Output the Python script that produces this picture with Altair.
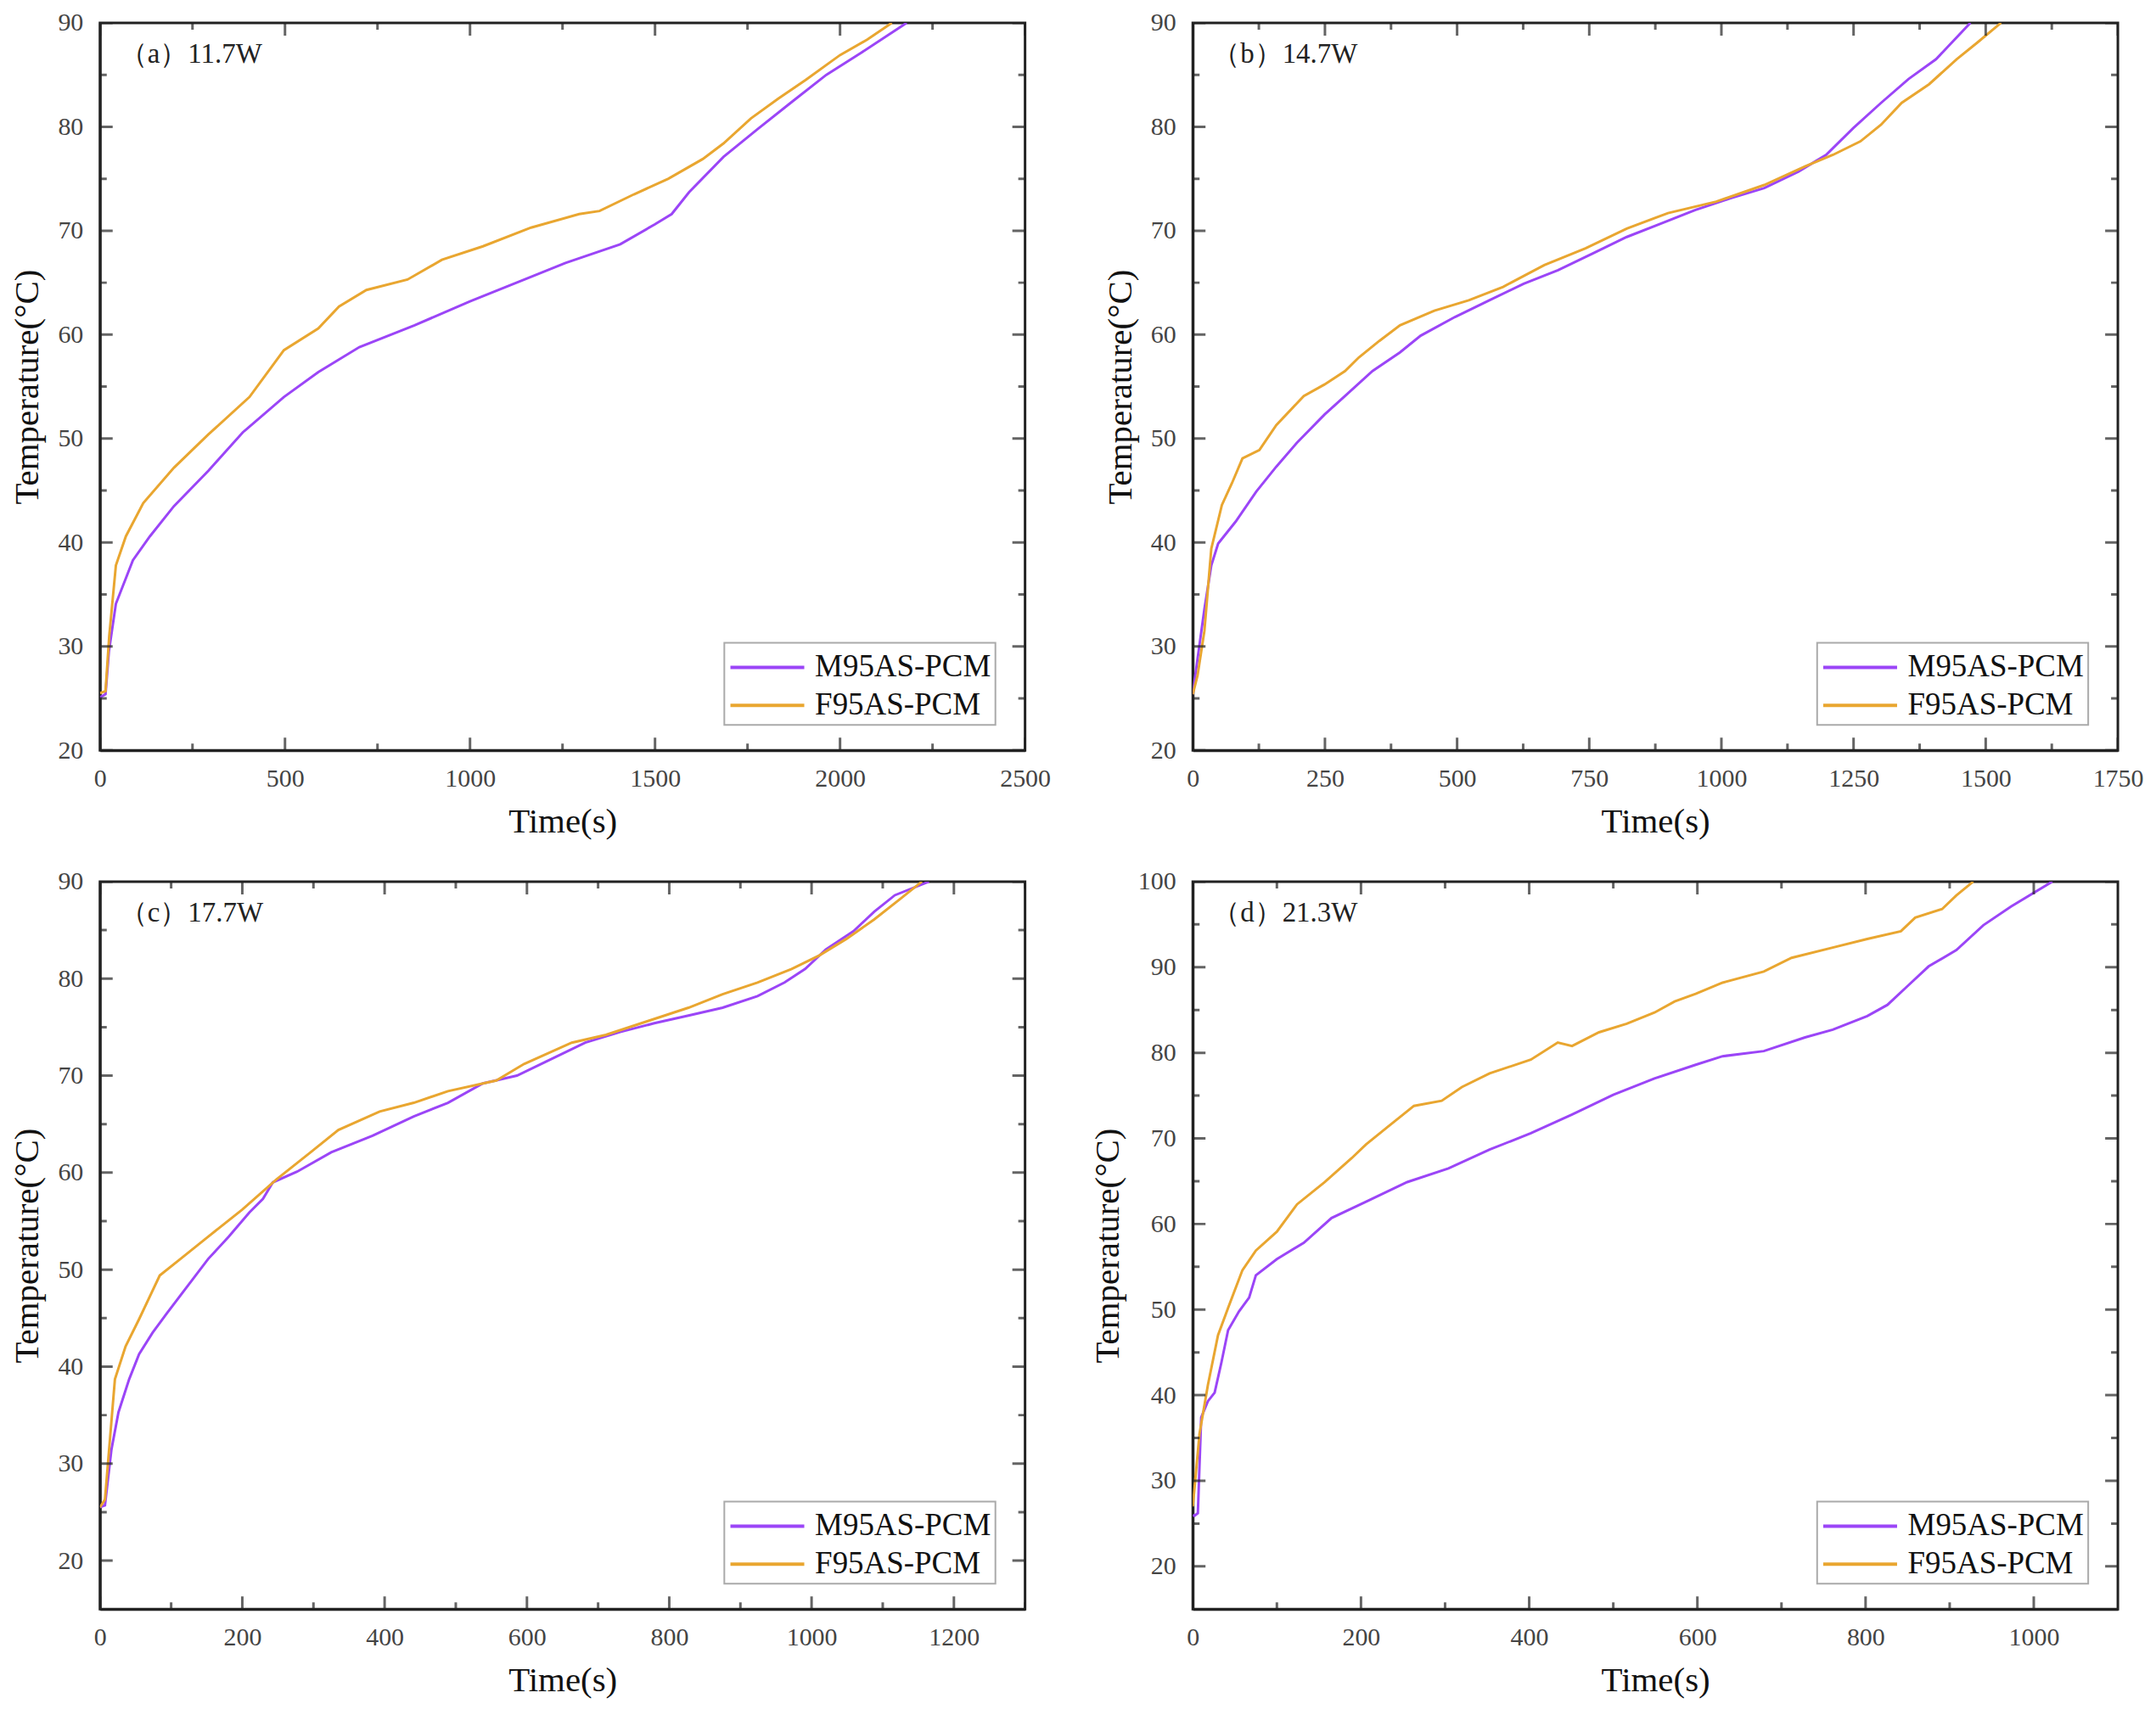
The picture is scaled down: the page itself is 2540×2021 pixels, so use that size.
import pandas as pd
import altair as alt

SERIES = ['M95AS-PCM', 'F95AS-PCM']
COLORS = ['#9B45F7', '#E9A630']
FONT = 'Liberation Serif'

# (a) 11.7W
a_m_t = [0, 15, 24, 43, 89, 135, 200, 293, 386, 497, 590, 701, 850, 1000, 1147, 1258, 1406,
         1499, 1545, 1592, 1685, 1778, 1870, 1963, 2056, 2180]
a_m_T = [25.1, 25.4, 29.5, 34.1, 38.3, 40.6, 43.5, 46.9, 50.6, 54.0, 56.4, 58.8, 60.9, 63.2,
         65.3, 66.9, 68.7, 70.6, 71.6, 73.7, 77.1, 79.8, 82.4, 85.0, 87.1, 90.0]
a_f_t = [0, 15, 25, 43, 70, 117, 200, 293, 404, 497, 590, 646, 720, 831, 924, 1035, 1165, 1295,
         1350, 1443, 1536, 1629, 1685, 1759, 1833, 1907, 2000, 2074, 2140]
a_f_T = [25.5, 25.7, 31.0, 37.8, 40.6, 43.8, 47.2, 50.4, 54.0, 58.5, 60.6, 62.7, 64.3, 65.3,
         67.2, 68.5, 70.3, 71.6, 71.9, 73.5, 75.0, 76.9, 78.4, 80.8, 82.7, 84.5, 86.9, 88.4, 90.0]

# (b) 14.7W
b_m_t = [0, 9, 22, 35, 48, 81, 120, 158, 197, 249, 288, 340, 392, 431, 496, 561, 626, 691, 756,
         821, 886, 951, 1016, 1081, 1146, 1198, 1250, 1302, 1354, 1406, 1471]
b_m_T = [25.4, 28.8, 33.6, 37.8, 39.9, 42.0, 44.9, 47.3, 49.6, 52.3, 54.1, 56.5, 58.3, 59.9,
         61.7, 63.3, 64.9, 66.2, 67.8, 69.4, 70.7, 72.0, 73.1, 74.1, 75.7, 77.3, 79.9, 82.3,
         84.6, 86.5, 90.0]
b_f_t = [0, 9, 22, 35, 55, 74, 94, 126, 158, 210, 249, 288, 314, 353, 392, 457, 522, 587, 665,
         743, 821, 899, 990, 1081, 1159, 1211, 1263, 1302, 1341, 1393, 1445, 1484, 1529]
b_f_T = [25.4, 27.2, 31.5, 39.4, 43.6, 45.7, 48.1, 48.9, 51.3, 54.1, 55.2, 56.5, 57.8, 59.4,
         60.9, 62.3, 63.3, 64.6, 66.7, 68.3, 70.2, 71.7, 72.8, 74.4, 76.2, 77.3, 78.6, 80.2,
         82.3, 84.1, 86.5, 88.1, 90.0]

# (c) 17.7W
c_m_t = [0, 7, 16, 26, 41, 55, 74, 94, 123, 152, 181, 210, 229, 243, 277, 325, 383, 441, 489,
         538, 586, 634, 682, 731, 779, 827, 875, 924, 962, 991, 1020, 1059, 1088, 1117, 1165]
c_m_T = [25.5, 25.7, 31.4, 35.3, 38.7, 41.3, 43.5, 45.5, 48.3, 51.1, 53.4, 55.9, 57.3, 59.0,
         60.1, 62.1, 63.8, 65.8, 67.2, 69.2, 70.0, 71.7, 73.4, 74.5, 75.4, 76.2, 77.0, 78.2,
         79.6, 81.0, 83.0, 84.9, 86.9, 88.6, 90.0]
c_f_t = [0, 7, 21, 36, 55, 84, 113, 152, 200, 248, 296, 335, 393, 441, 489, 557, 596, 663, 711,
         769, 827, 875, 924, 972, 1011, 1049, 1088, 1126, 1155]
c_f_T = [25.5, 26.3, 38.7, 42.1, 44.9, 49.4, 51.1, 53.4, 56.2, 59.3, 62.1, 64.4, 66.3, 67.2,
         68.4, 69.5, 71.2, 73.4, 74.2, 75.6, 77.0, 78.4, 79.6, 81.0, 82.4, 84.1, 86.1, 88.3, 90.0]

# (d) 21.3W
d_m_t = [0, 2, 6, 10, 18, 26, 34, 42, 55, 67, 75, 100, 132, 165, 206, 255, 304, 353, 402, 451,
         500, 549, 598, 630, 679, 728, 761, 802, 826, 851, 875, 908, 940, 973, 1022]
d_m_T = [26.0, 25.9, 26.2, 37.4, 39.3, 40.3, 43.8, 47.6, 49.8, 51.4, 54.0, 55.9, 57.8, 60.7,
         62.6, 64.9, 66.5, 68.7, 70.6, 72.8, 75.1, 77.0, 78.6, 79.6, 80.2, 81.8, 82.7, 84.3,
         85.6, 87.9, 90.1, 92.0, 94.9, 97.1, 100.0]
d_f_t = [0, 2, 8, 18, 30, 42, 59, 75, 100, 124, 157, 189, 206, 230, 263, 296, 320, 353, 402,
         434, 451, 483, 516, 549, 573, 598, 630, 679, 712, 761, 802, 842, 859, 891, 908, 928]
d_f_T = [27.0, 29.1, 35.5, 41.2, 47.0, 50.2, 54.6, 56.9, 59.1, 62.3, 64.9, 67.7, 69.3, 71.2,
         73.8, 74.4, 76.0, 77.6, 79.2, 81.2, 80.8, 82.4, 83.4, 84.7, 86.0, 86.9, 88.2, 89.5,
         91.1, 92.3, 93.3, 94.2, 95.8, 96.8, 98.4, 100.0]

W, H = 1092, 859


def panel(label, m_t, m_T, f_t, f_T, xdom, xmajor, xminor, ydom, ymajor, yminor):
    df = pd.concat([
        pd.DataFrame({'t': m_t, 'T': m_T, 'series': SERIES[0]}),
        pd.DataFrame({'t': f_t, 'T': f_T, 'series': SERIES[1]}),
    ])
    xs = alt.Scale(domain=xdom, nice=False, zero=False)
    ys = alt.Scale(domain=ydom, nice=False, zero=False)
    xax = alt.Axis(values=xmajor, title='Time(s)', format='d')
    yax = alt.Axis(values=ymajor, title='Temperature(°C)', format='d')

    lines = alt.Chart(df).mark_line(strokeWidth=3, clip=True).encode(
        x=alt.X('t:Q', scale=xs, axis=xax),
        y=alt.Y('T:Q', scale=ys, axis=yax),
        color=alt.Color('series:N', scale=alt.Scale(domain=SERIES, range=COLORS),
                        legend=alt.Legend(title=None, orient='none', legendX=737, legendY=732)),
    )

    layers = [lines]
    # inward ticks on all four sides (half of each tick is clipped away)
    for vals, size in [(xmajor, 30), (xminor, 16)]:
        base = alt.Chart(pd.DataFrame({'v': vals})).mark_tick(
            orient='vertical', size=size, thickness=3, color='#222', clip=True)
        for yv in [0, H]:
            layers.append(base.encode(x=alt.X('v:Q', scale=xs, axis=xax), y=alt.value(yv)))
    for vals, size in [(ymajor, 30), (yminor, 16)]:
        base = alt.Chart(pd.DataFrame({'v': vals})).mark_tick(
            orient='horizontal', size=size, thickness=3, color='#222', clip=True)
        for xv in [0, W]:
            layers.append(base.encode(y=alt.Y('v:Q', scale=ys, axis=yax), x=alt.value(xv)))

    text = alt.Chart(pd.DataFrame({'label': [label]})).mark_text(
        align='left', baseline='alphabetic', fontSize=33, font=FONT, color='#222'
    ).encode(text='label:N', x=alt.value(23), y=alt.value(47))
    layers.append(text)

    return alt.layer(*layers).properties(width=W, height=H)


pa = panel('（a）11.7W', a_m_t, a_m_T, a_f_t, a_f_T, [0, 2500],
           [0, 500, 1000, 1500, 2000, 2500], [250, 750, 1250, 1750, 2250],
           [20, 90], [20, 30, 40, 50, 60, 70, 80, 90], [25, 35, 45, 55, 65, 75, 85])
pb = panel('（b）14.7W', b_m_t, b_m_T, b_f_t, b_f_T, [0, 1750],
           [0, 250, 500, 750, 1000, 1250, 1500, 1750], [125, 375, 625, 875, 1125, 1375, 1625],
           [20, 90], [20, 30, 40, 50, 60, 70, 80, 90], [25, 35, 45, 55, 65, 75, 85])
pc = panel('（c）17.7W', c_m_t, c_m_T, c_f_t, c_f_T, [0, 1300],
           [0, 200, 400, 600, 800, 1000, 1200], [100, 300, 500, 700, 900, 1100, 1300],
           [15, 90], [20, 30, 40, 50, 60, 70, 80, 90], [25, 35, 45, 55, 65, 75, 85])
pd_ = panel('（d）21.3W', d_m_t, d_m_T, d_f_t, d_f_T, [0, 1100],
            [0, 200, 400, 600, 800, 1000], [100, 300, 500, 700, 900],
            [15, 100], [20, 30, 40, 50, 60, 70, 80, 90, 100], [25, 35, 45, 55, 65, 75, 85, 95])

chart = alt.concat(
    pa, pb, pc, pd_, columns=2, spacing={'row': 155, 'column': 198}, bounds='flush'
).resolve_scale(
    color='independent'
).properties(
    padding={'left': 2, 'top': 0, 'right': 5, 'bottom': 5}
).configure_view(
    stroke='#222', strokeWidth=3
).configure_axis(
    grid=False, ticks=False, domainColor='#222', domainWidth=3,
    labelFont=FONT, labelFontSize=30, labelColor='#444', labelFlush=False, labelOverlap=False,
    titleFont=FONT, titleFontSize=41, titleFontWeight='normal', titleColor='#111'
).configure_axisX(
    labelPadding=18, titlePadding=16
).configure_axisY(
    labelPadding=20, titlePadding=14
).configure_legend(
    labelFont=FONT, labelFontSize=37, labelColor='#111', labelLimit=0,
    symbolType='M-1,0H3', symbolSize=1900, symbolStrokeWidth=4, symbolOffset=0,
    labelOffset=54, strokeColor='#aaa', strokeWidth=2, fillColor='white',
    padding=5, rowPadding=3
)

chart.save('out.html', embed_options={'renderer': 'svg', 'actions': False})
